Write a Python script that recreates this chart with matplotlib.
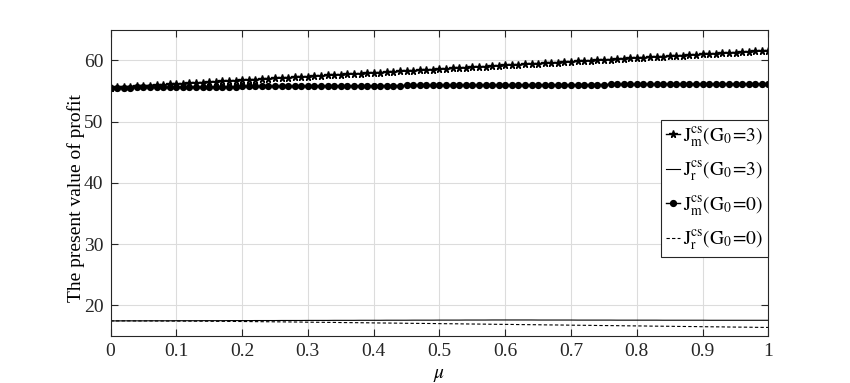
import numpy as np
import matplotlib
matplotlib.use('Agg')
import matplotlib.pyplot as plt

plt.rcParams['font.family'] = 'Liberation Serif'
plt.rcParams['mathtext.fontset'] = 'stix'

# mu grid, step 0.01
mu = np.linspace(0, 1, 101)

# J_m^cs(G0=3)
jm_g3 = [55.55, 55.61, 55.67, 55.73, 55.79, 55.85, 55.91, 55.97, 56.03, 56.09,
         56.16, 56.22, 56.28, 56.34, 56.40, 56.46, 56.52, 56.58, 56.64, 56.70,
         56.76, 56.82, 56.88, 56.94, 57.00, 57.06, 57.12, 57.18, 57.24, 57.30,
         57.37, 57.43, 57.49, 57.55, 57.61, 57.67, 57.73, 57.79, 57.85, 57.91,
         57.97, 58.03, 58.09, 58.15, 58.21, 58.27, 58.33, 58.39, 58.45, 58.51,
         58.58, 58.64, 58.70, 58.76, 58.82, 58.88, 58.94, 59.00, 59.06, 59.12,
         59.18, 59.24, 59.30, 59.36, 59.42, 59.48, 59.54, 59.60, 59.66, 59.72,
         59.79, 59.85, 59.91, 59.97, 60.03, 60.09, 60.15, 60.21, 60.27, 60.33,
         60.39, 60.45, 60.51, 60.57, 60.63, 60.69, 60.75, 60.81, 60.87, 60.93,
         61.00, 61.06, 61.12, 61.18, 61.24, 61.30, 61.36, 61.42, 61.48, 61.54,
         61.60]

# J_r^cs(G0=3)
jr_g3 = [17.45, 17.45, 17.46, 17.46, 17.46, 17.46, 17.47, 17.47, 17.47, 17.47,
         17.48, 17.48, 17.48, 17.48, 17.49, 17.49, 17.49, 17.49, 17.50, 17.50,
         17.50, 17.50, 17.51, 17.51, 17.51, 17.51, 17.52, 17.52, 17.52, 17.52,
         17.53, 17.53, 17.53, 17.53, 17.54, 17.54, 17.54, 17.54, 17.55, 17.55,
         17.55, 17.55, 17.56, 17.56, 17.56, 17.56, 17.57, 17.57, 17.57, 17.57,
         17.58, 17.58, 17.58, 17.58, 17.59, 17.59, 17.59, 17.59, 17.60, 17.60,
         17.60, 17.60, 17.60, 17.60, 17.60, 17.59, 17.59, 17.59, 17.59, 17.59,
         17.59, 17.58, 17.58, 17.58, 17.58, 17.58, 17.58, 17.57, 17.57, 17.57,
         17.57, 17.57, 17.57, 17.57, 17.56, 17.56, 17.56, 17.56, 17.56, 17.56,
         17.56, 17.55, 17.55, 17.55, 17.55, 17.55, 17.55, 17.55, 17.55, 17.55,
         17.55]

# J_m^cs(G0=0)
jm_g0 = [55.55, 55.56, 55.57, 55.58, 55.59, 55.60, 55.61, 55.62, 55.63, 55.64,
         55.65, 55.66, 55.67, 55.68, 55.69, 55.70, 55.71, 55.72, 55.73, 55.74,
         55.75, 55.76, 55.76, 55.77, 55.78, 55.78, 55.79, 55.80, 55.80, 55.81,
         55.82, 55.82, 55.83, 55.84, 55.84, 55.85, 55.86, 55.86, 55.87, 55.88,
         55.88, 55.89, 55.90, 55.90, 55.91, 55.92, 55.92, 55.93, 55.94, 55.94,
         55.95, 55.95, 55.96, 55.96, 55.97, 55.97, 55.98, 55.98, 55.99, 55.99,
         56.00, 56.00, 56.01, 56.01, 56.02, 56.02, 56.03, 56.03, 56.04, 56.04,
         56.05, 56.05, 56.06, 56.06, 56.07, 56.07, 56.08, 56.08, 56.09, 56.09,
         56.10, 56.10, 56.11, 56.11, 56.12, 56.12, 56.13, 56.13, 56.14, 56.14,
         56.15, 56.15, 56.16, 56.16, 56.17, 56.17, 56.18, 56.18, 56.19, 56.19,
         56.20]

# J_r^cs(G0=0)
jr_g0 = [17.45, 17.45, 17.45, 17.45, 17.44, 17.44, 17.44, 17.43, 17.43, 17.42,
         17.42, 17.41, 17.41, 17.40, 17.40, 17.39, 17.38, 17.38, 17.37, 17.36,
         17.35, 17.34, 17.33, 17.32, 17.31, 17.30, 17.29, 17.28, 17.27, 17.26,
         17.24, 17.23, 17.22, 17.21, 17.20, 17.18, 17.17, 17.16, 17.15, 17.14,
         17.12, 17.11, 17.10, 17.09, 17.08, 17.06, 17.05, 17.04, 17.03, 17.02,
         17.00, 16.99, 16.98, 16.97, 16.95, 16.94, 16.93, 16.92, 16.90, 16.89,
         16.88, 16.87, 16.85, 16.84, 16.83, 16.82, 16.80, 16.79, 16.78, 16.77,
         16.75, 16.74, 16.73, 16.72, 16.70, 16.69, 16.68, 16.67, 16.65, 16.64,
         16.63, 16.62, 16.60, 16.59, 16.58, 16.57, 16.55, 16.54, 16.53, 16.52,
         16.50, 16.49, 16.48, 16.47, 16.45, 16.44, 16.43, 16.42, 16.40, 16.39,
         16.38]

labels = [r'$\mathrm{J_m^{cs}(G_0\!=\!3)}$',
          r'$\mathrm{J_r^{cs}(G_0\!=\!3)}$',
          r'$\mathrm{J_m^{cs}(G_0\!=\!0)}$',
          r'$\mathrm{J_r^{cs}(G_0\!=\!0)}$']

fig = plt.figure(figsize=(8.5, 3.83), dpi=100)
ax = fig.add_axes([0.130, 0.123, 0.774, 0.799])

ax.plot(mu, jm_g3, color='k', lw=1.0, marker='*', ms=5.5, label=labels[0])
ax.plot(mu, jr_g3, color='k', lw=0.8, label=labels[1])
ax.plot(mu, jm_g0, color='k', lw=1.0, marker='o', ms=4.2, label=labels[2])
ax.plot(mu, jr_g0, color='k', lw=0.8, ls=(0, (3, 2)), label=labels[3])

ax.set_xlim(0, 1)
ax.set_ylim(15, 65)
ax.set_xticks(np.arange(0, 1.01, 0.1))
ax.set_xticklabels(['0', '0.1', '0.2', '0.3', '0.4', '0.5', '0.6', '0.7', '0.8', '0.9', '1'])
ax.set_yticks([20, 30, 40, 50, 60])
ax.grid(True, color='#dcdcdc', lw=0.8)
ax.set_axisbelow(True)
ax.tick_params(direction='in', top=True, right=True, labelsize=14, colors='#262626',
               length=5, width=0.8, pad=5)
for s in ax.spines.values():
    s.set_color('#262626')
    s.set_linewidth(0.8)

ax.set_xlabel(r'$\mu$', fontsize=14, labelpad=5)
ax.set_ylabel('The present value of profit', fontsize=14)
ax.yaxis.set_label_coords(-0.039, 0.45)

leg = ax.legend(loc='upper right', bbox_to_anchor=(1.0, 0.705), fontsize=14,
                handlelength=0.75, handletextpad=0.15, borderpad=0.25,
                labelspacing=0.55, fancybox=False, framealpha=1,
                edgecolor='#262626', borderaxespad=0)
leg.get_frame().set_linewidth(0.8)

plt.savefig('out.png', dpi=100)
